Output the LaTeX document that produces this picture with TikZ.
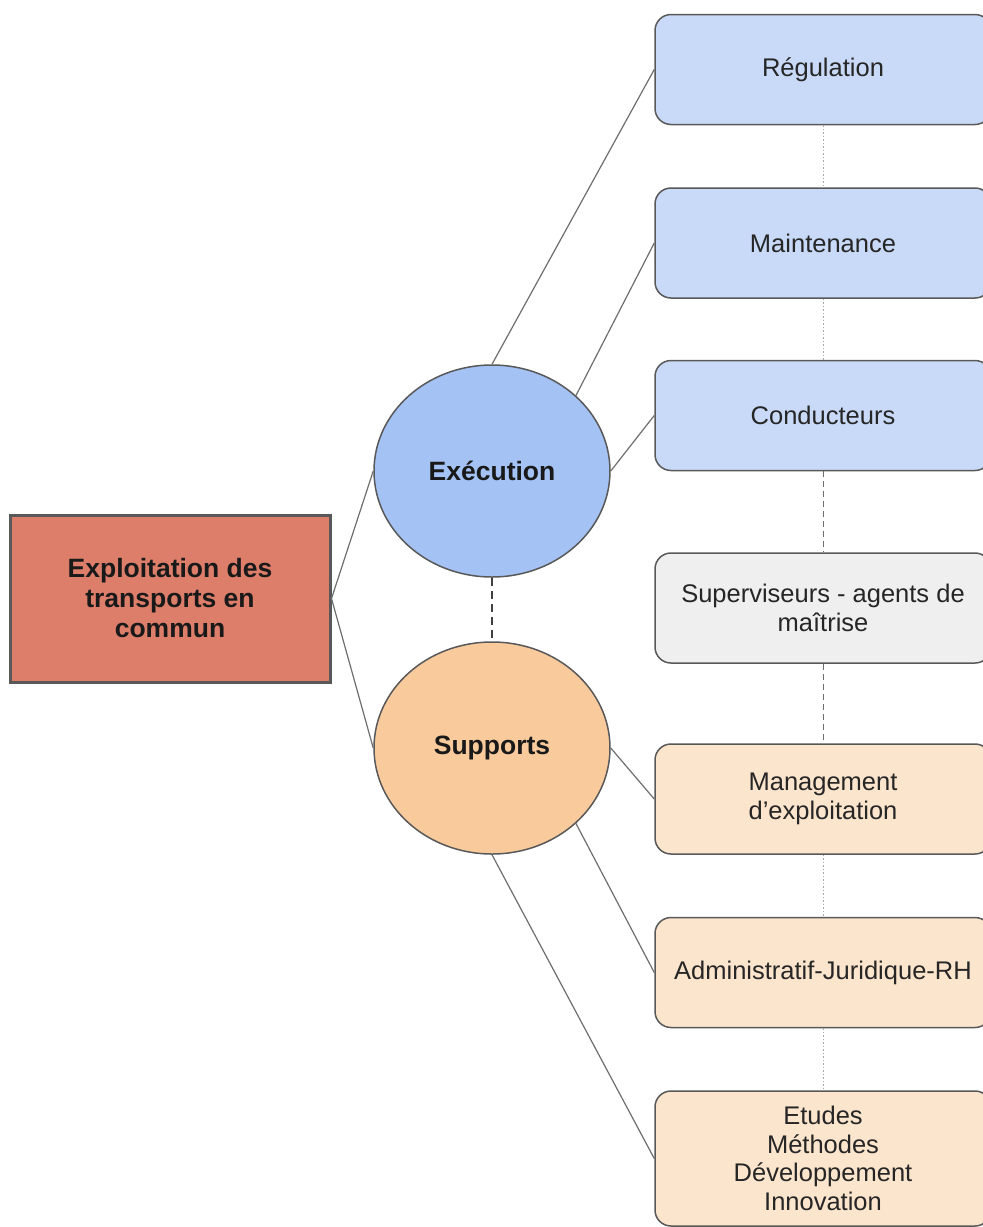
\documentclass[tikz,border=0pt]{standalone}
\usepackage{fontspec}
\setmainfont{Liberation Sans}
\usetikzlibrary{shapes.geometric}
\definecolor{berry}{HTML}{DD7E6B}
\definecolor{execblue}{HTML}{A4C2F4}
\definecolor{suporange}{HTML}{F9CB9C}
\definecolor{boxblue}{HTML}{C9DAF8}
\definecolor{boxgray}{HTML}{EFEFEF}
\definecolor{boxorange}{HTML}{FCE5CD}
\definecolor{bordergray}{HTML}{595959}
\definecolor{linkgray}{HTML}{6E6E6E}
\definecolor{dotgray}{HTML}{A8A8A8}
\begin{document}
\begin{tikzpicture}[x=1pt,y=-1pt,
  service/.style={draw=bordergray,line width=1.5pt,rounded corners=16pt,minimum width=336pt,minimum height=110pt,align=center,text=black!85,font=\fontsize{25.5}{28.5}\selectfont},
  pole/.style={ellipse,draw=bordergray,line width=1.5pt,minimum width=236pt,minimum height=212pt,inner sep=0pt,text=black!90,font=\fontsize{26.5}{30}\selectfont\bfseries},
  link/.style={draw=linkgray,line width=1.2pt},
  faint/.style={draw=dotgray,line width=0.9pt,dash pattern=on 1.5pt off 2pt},
  broken/.style={draw=linkgray,line width=1pt,dash pattern=on 6pt off 4pt}]
\useasboundingbox (0,0) rectangle (983,1227);
\fill[white] (0,0) rectangle (983,1227);

% centre
\node[draw=bordergray,line width=3pt,fill=berry,minimum width=320pt,minimum height=167pt,align=center,text=black!90,font=\fontsize{26.5}{30}\selectfont\bfseries] (exploit) at (170,598.5) {Exploitation des\\transports en\\commun};

% poles
\node[pole,fill=execblue] (exec) at (492,471) {Exécution};
\node[pole,fill=suporange] (supp) at (492,748) {Supports};

% services
\node[service,fill=boxblue] (regul) at (823,69.5) {Régulation};
\node[service,fill=boxblue] (maint) at (823,243) {Maintenance};
\node[service,fill=boxblue] (cond) at (823,415.5) {Conducteurs};
\node[service,fill=boxgray] (superv) at (823,608) {Superviseurs - agents de\\maîtrise};
\node[service,fill=boxorange] (mgmt) at (823,799) {Management\\d’exploitation};
\node[service,fill=boxorange] (admin) at (823,972.5) {Administratif-Juridique-RH};
\node[service,fill=boxorange,minimum height=135pt] (etudes) at (823,1158.5) {Etudes\\Méthodes\\Développement\\Innovation};

% links
\draw[link] (exploit.east) -- (exec.west);
\draw[link] (exploit.east) -- (supp.west);
\draw[link] (exec.north) -- (regul.west);
\draw[link] (exec.north east) -- (maint.west);
\draw[link] (exec.east) -- (cond.west);
\draw[link] (supp.east) -- (mgmt.west);
\draw[link] (supp.south east) -- (admin.west);
\draw[link] (supp.south) -- (etudes.west);
\draw[draw=black!75,line width=1.4pt,dash pattern=on 8pt off 5pt] (exec.south) -- (supp.north);

\draw[faint] (regul.south) -- (maint.north);
\draw[faint] (maint.south) -- (cond.north);
\draw[broken] (cond.south) -- (superv.north);
\draw[broken] (superv.south) -- (mgmt.north);
\draw[faint] (mgmt.south) -- (admin.north);
\draw[faint] (admin.south) -- (etudes.north);
\end{tikzpicture}
\end{document}
